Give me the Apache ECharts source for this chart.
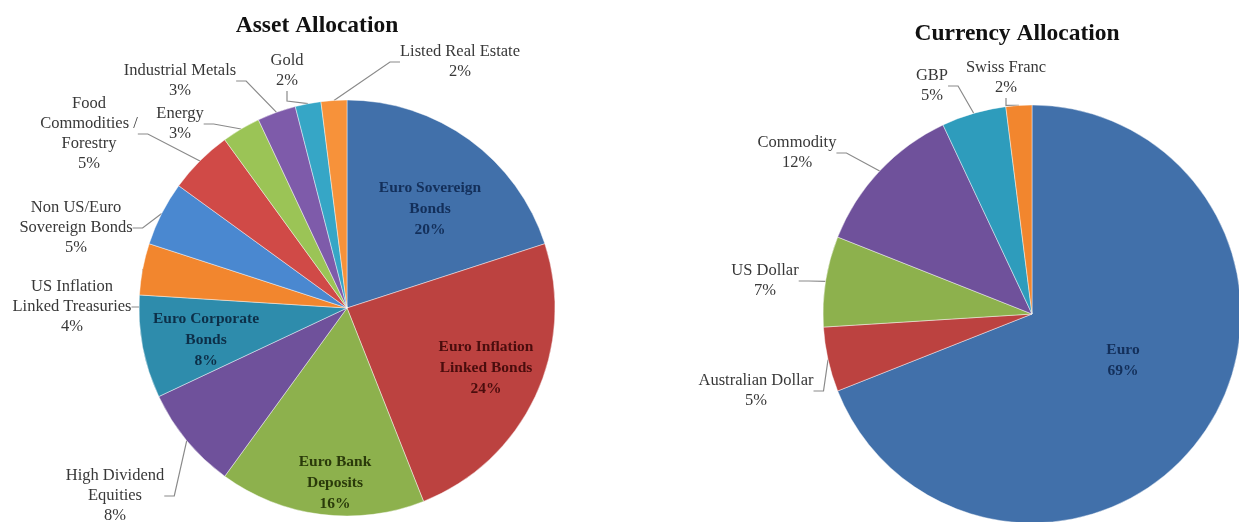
<!DOCTYPE html>
<html>
<head>
<meta charset="utf-8">
<script src="https://cdn.jsdelivr.net/npm/echarts@6/dist/echarts.min.js"></script>
<style>
html,body{margin:0;padding:0;background:#fff;}
#chart{width:1239px;height:522px;}
</style>
</head>
<body>
<div id="chart"></div>
<script>
// ---- Data ----
const assetCategories = [
  'Euro Sovereign\nBonds', 'Euro Inflation\nLinked Bonds', 'Euro Bank\nDeposits',
  'High Dividend\nEquities', 'Euro Corporate\nBonds', 'US Inflation\nLinked Treasuries',
  'Non US/Euro\nSovereign Bonds', 'Food\nCommodities /\nForestry', 'Energy',
  'Industrial Metals', 'Gold', 'Listed Real Estate'
];
const assetValues = [20, 24, 16, 8, 8, 4, 5, 5, 3, 3, 2, 2];

const currencyCategories = ['Euro', 'Australian Dollar', 'US Dollar', 'Commodity', 'GBP', 'Swiss Franc'];
const currencyValues = [69, 5, 7, 12, 5, 2];

// ---- Styles (kept apart from data) ----
const assetColors = ['#4170AA', '#BC4240', '#8DB14D', '#6F519B', '#2E8CAC', '#F2862E',
                     '#4A88D0', '#D04A47', '#9BC456', '#7E5BAA', '#36A6C6', '#F7923A'];
const currencyColors = ['#4170AA', '#BC4240', '#8DB14D', '#6F519B', '#2E9CBC', '#F2862E'];

const assetInside = [true, true, true, false, true, false, false, false, false, false, false, false];
const assetInsideColors = ['#132f5a', '#4a0d0d', '#2a3a0a', null, '#0d2f48'];
const assetLabelPos = [
  [430, 209], [486, 368], [335, 483], [115, 496], [206, 340], [72, 307],
  [76, 228], [89, 134], [180, 124], [180, 81], [287, 71], [460, 62]
];
const currencyInside = [true, false, false, false, false, false];
const currencyLabelPos = [[1123, 360], [756, 391], [765, 281], [797, 153], [932, 86], [1006, 78]];

const serif = '"Liberation Serif","DejaVu Serif",serif';

function buildData(cats, vals, colors, inside, insideColors) {
  return cats.map((c, i) => {
    const d = { name: c, value: vals[i], itemStyle: { color: colors[i] } };
    if (inside[i]) {
      d.label = { fontWeight: 'bold', fontSize: 15.5, lineHeight: 21, color: insideColors ? insideColors[i] : '#132f5a' };
      d.labelLine = { show: false };
    }
    return d;
  });
}

function layoutFn(pos) {
  return function (params) {
    const p = pos[params.dataIndex];
    return { x: p[0], y: p[1], align: 'center', verticalAlign: 'middle' };
  };
}

const commonSeries = {
  type: 'pie',
  startAngle: 90,
  clockwise: true,
  avoidLabelOverlap: false,
  percentPrecision: 0,
  animation: false,
  itemStyle: { borderColor: 'rgba(255,255,255,0.55)', borderWidth: 0.8 },
  label: {
    show: true,
    position: 'outside',
    formatter: '{b}\n{d}%',
    fontFamily: serif,
    fontSize: 16.5,
    lineHeight: 20,
    color: '#383838',
    align: 'center'
  },
  labelLine: { show: true, length: 10, length2: 10, lineStyle: { color: '#8a8a8a', width: 1.2 } },
  emphasis: { disabled: true }
};

const chart = echarts.init(document.getElementById('chart'), null, { renderer: 'canvas' });
chart.setOption({
  backgroundColor: '#ffffff',
  title: [
    { text: 'Asset Allocation', left: 312, top: 9, textAlign: 'center',
      textStyle: { fontFamily: serif, fontSize: 23.5, fontWeight: 'bold', color: '#111' } },
    { text: 'Currency Allocation', left: 1012, top: 17, textAlign: 'center',
      textStyle: { fontFamily: serif, fontSize: 23.5, fontWeight: 'bold', color: '#111' } }
  ],
  series: [
    Object.assign({}, commonSeries, {
      name: 'Asset Allocation',
      center: [347, 308],
      radius: [0, 208],
      data: buildData(assetCategories, assetValues, assetColors, assetInside, assetInsideColors),
      labelLayout: layoutFn(assetLabelPos)
    }),
    Object.assign({}, commonSeries, {
      name: 'Currency Allocation',
      center: [1032, 314],
      radius: [0, 209],
      data: buildData(currencyCategories, currencyValues, currencyColors, currencyInside, ['#132f5a']),
      labelLayout: layoutFn(currencyLabelPos)
    })
  ]
});
</script>
</body>
</html>
